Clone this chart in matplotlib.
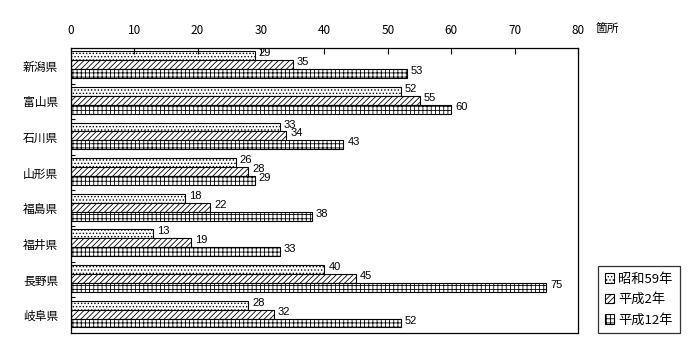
import matplotlib
matplotlib.use("Agg")
import matplotlib.pyplot as plt
import numpy as np

plt.rcParams['font.family'] = ['Noto Sans CJK JP', 'DejaVu Sans']
plt.rcParams['hatch.linewidth'] = 0.6

prefs = ['新潟県', '富山県', '石川県', '山形県', '福島県', '福井県', '長野県', '岐阜県']
s59 = [29, 52, 33, 26, 18, 13, 40, 28]
h2 = [35, 55, 34, 28, 22, 19, 45, 32]
h12 = [53, 60, 43, 29, 38, 33, 75, 52]
series = [('昭和59年', s59, '.....'), ('平成2年', h2, '//////'), ('平成12年', h12, '++++')]

fig = plt.figure(figsize=(7, 3.6), dpi=100)
ax = fig.add_axes([0.101, 0.075, 0.725, 0.792])

y = np.arange(len(prefs))
bh = 0.25
for i, (name, vals, hatch) in enumerate(series):
    pos = y + (i - 1) * bh - 0.03
    ax.barh(pos, vals, height=bh, color='white', edgecolor='black',
            linewidth=0.8, hatch=hatch, label=name)
    for p, v in zip(pos, vals):
        ax.text(v + 0.6, p - 0.07, str(v), va='center', ha='left',
                fontsize=8, family=['Liberation Sans Narrow', 'Liberation Sans'])

ax.set_xlim(0, 80)
ax.set_ylim(len(prefs) - 0.5, -0.5)
ax.xaxis.tick_top()
ax.set_xticks(range(0, 81, 10))
ax.tick_params(axis='x', direction='in', length=4, labelsize=8.5, pad=8)
ax.set_yticks(np.arange(len(prefs) - 1) + 0.5)
ax.set_yticklabels([])
ax.tick_params(axis='y', direction='in', length=3)
ax.set_yticks(y, minor=True)
ax.set_yticklabels(prefs, minor=True, fontsize=8.5)
ax.tick_params(axis='y', which='minor', length=0, pad=9)
for s in ax.spines.values():
    s.set_linewidth(0.9)

fig.text(0.867, 0.922, '箇所', fontsize=8.5, ha='center', va='center')

leg = ax.legend(loc='lower left', bbox_to_anchor=(1.039, 0.0), fontsize=9.5,
                frameon=True, fancybox=False, edgecolor='black',
                handlelength=0.75, handleheight=0.75, handletextpad=0.3,
                borderpad=0.5, labelspacing=0.55, borderaxespad=0.0)
leg.get_frame().set_linewidth(0.9)

fig.savefig('out.png', dpi=100)
